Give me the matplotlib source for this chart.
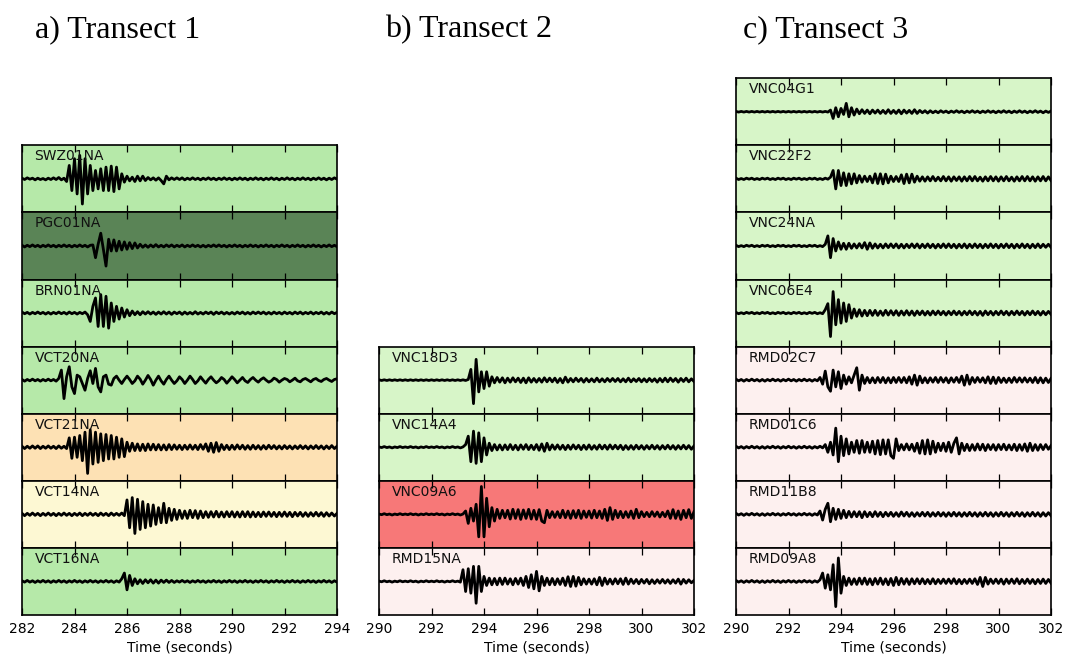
import numpy as np
import matplotlib
matplotlib.use("Agg")
import matplotlib.pyplot as plt

# ---------------- data (amplitudes in % of panel half-height, 0.1 s sampling) ----------------
dt = 0.1
transect_titles = ["a) Transect 1", "b) Transect 2", "c) Transect 3"]
transect_starts = [282, 290, 290]
window = 12
tick_step = 2

t1_stations = ["SWZ01NA", "PGC01NA", "BRN01NA", "VCT20NA", "VCT21NA", "VCT14NA", "VCT16NA"]
t1_colors = ["#b6e9a9", "#5a8456", "#b6e9a9", "#b6e9a9", "#fde1b4", "#fdf8d3", "#b6e9a9"]

t2_stations = ["VNC18D3", "VNC14A4", "VNC09A6", "RMD15NA"]
t2_colors = ["#d7f5c8", "#d7f5c8", "#f77878", "#fdf0ef"]

t3_stations = ["VNC04G1", "VNC22F2", "VNC24NA", "VNC06E4", "RMD02C7", "RMD01C6", "RMD11B8", "RMD09A8"]
t3_colors = ["#d7f5c8", "#d7f5c8", "#d7f5c8", "#d7f5c8", "#fdf0ef", "#fdf0ef", "#fdf0ef", "#fdf0ef"]

swz01na = [2,-2,3,-1,2,-3,2,-2,1,-3,
           2,-2,3,-2,4,-3,2,-8,40,-35,
           60,-45,70,-75,60,-45,40,-35,25,-30,
           30,-35,35,-35,38,-38,35,-30,15,-10,
           8,-6,5,-8,8,-6,8,-5,4,-3,
           3,-4,3,-5,-15,8,-3,3,-2,3,
           -2,3,-3,2,-2,3,-2,2,-3,2,
           -2,3,-2,2,-3,2,-2,3,-2,2,
           -3,2,-2,3,-2,2,-3,2,-2,3,
           -2,2,-3,2,-2,3,-2,2,-3,2,
           -2,3,-2,2,-3,2,-2,3,-2,2,
           -3,2,-2,3,-2,2,-3,2,-2,3,-1]
pgc01na = [2,-3,2,-2,3,-2,2,-3,2,-2,
           3,-2,2,-3,2,-2,3,-2,2,-3,
           2,-2,3,-2,2,-3,2,3,-35,5,
           38,-10,-60,20,-15,18,-15,14,-12,12,
           -10,10,-8,9,-6,5,-4,3,-4,3,
           -3,4,-3,2,-3,3,-2,3,-3,2,
           -2,3,-3,2,-2,3,-2,2,-3,2,
           -3,2,-2,3,-2,3,-2,2,-3,2,
           -2,3,-2,2,-3,2,-2,3,-2,2,
           -3,2,-2,3,-2,2,-3,2,-2,3,
           -2,2,-3,2,-2,3,-2,2,-3,2,
           -2,3,-2,2,-3,2,-2,3,-2,2,-2]
brn01na = [3,-2,2,-3,2,-2,3,-2,2,-3,
           2,-3,2,-2,3,-2,2,-3,3,-2,
           2,-3,2,-2,3,-5,-25,20,45,-40,
           55,-40,50,-45,30,-25,20,-18,15,-12,
           10,-8,6,-5,4,-5,4,-3,4,-3,
           3,-4,3,-3,4,-3,3,-4,3,-2,
           3,-4,3,-3,2,-3,4,-3,2,-3,
           3,-2,3,-4,3,-2,3,-3,2,-3,
           2,-3,3,-2,3,-3,2,-3,3,-2,
           3,-2,3,-3,2,-3,3,-2,2,-3,
           3,-2,2,-3,3,-2,3,-3,2,-2,
           3,-3,2,-2,3,-3,2,-3,3,-2,2]
vct20na = [2,-3,2,-2,3,-2,2,-3,2,-2,
           3,-2,2,-3,5,30,-55,10,40,-20,
           -40,15,10,-10,-30,5,28,-10,35,-20,
           -35,10,15,-12,-15,5,12,0,-10,2,
           12,2,-10,-2,12,3,-12,0,14,2,
           -15,0,12,-2,-12,2,12,0,-10,-2,
           10,2,-10,0,12,2,-10,-2,10,0,
           -9,2,10,0,-8,-2,8,2,-9,0,
           10,2,-8,0,8,-2,-7,2,8,0,
           -6,2,7,0,-6,-2,6,2,-6,0,
           5,2,-5,0,6,-2,-5,2,5,0,
           -5,2,5,-1,-4,2,5,0,-4,2,4]
vct21na = [3,-4,3,-3,4,-3,4,-4,3,-3,
           4,-3,3,-4,4,-3,3,-4,28,-33,
           30,-30,35,-40,45,-78,52,-50,45,-45,
           40,-40,38,-35,35,-35,30,-30,25,-28,
           15,-12,12,-10,10,-10,9,-10,10,-8,
           9,-8,8,-8,7,-8,8,-7,7,-6,
           6,-7,6,-6,7,-6,6,-7,8,-6,
           10,-12,12,-15,14,-12,8,-7,6,-7,
           6,-6,7,-5,6,-6,5,-6,6,-5,
           5,-6,5,-5,6,-4,5,-5,4,-5,
           5,-4,4,-5,4,-4,5,-4,4,-5,
           4,-4,5,-4,4,-5,4,-4,5,-4,3]
vct14na = [3,-4,3,-3,4,-3,3,-4,3,-3,
           4,-3,3,-4,3,-3,4,-3,3,-4,
           3,-3,4,-4,3,-3,4,-3,3,-4,
           4,-3,3,-4,4,-3,3,-3,4,-4,
           43,-40,50,-57,45,-45,38,-40,30,-35,
           28,-30,20,-25,33,-25,18,-18,15,-15,
           12,-12,10,-12,12,-10,11,-12,10,-10,
           8,-9,8,-8,9,-8,7,-8,8,-7,
           8,-8,7,-8,8,-7,8,-8,7,-7,
           6,-7,7,-6,7,-6,6,-7,6,-6,
           7,-6,6,-7,6,-5,6,-6,5,-6,
           5,-5,6,-5,5,-6,5,-5,4,-5,3]
vct16na = [2,-2,3,-2,2,-3,2,-2,3,-2,
           2,-3,2,-2,3,-2,2,-3,2,-2,
           3,-2,2,-3,2,-2,3,-2,2,-3,
           2,-2,3,-2,2,-3,2,-2,8,25,
           -25,18,-12,8,-7,5,-6,5,-4,5,
           -5,4,-5,4,-3,4,-3,3,-3,2,
           -2,3,-2,2,-3,2,-2,3,-2,2,
           -3,2,-2,3,-2,2,-3,2,-2,3,
           -2,2,-3,2,-2,3,-2,2,-3,2,
           -2,3,-2,2,-3,2,-2,3,-2,2,
           -3,2,-2,3,-2,2,-3,2,-2,3,
           -2,2,-3,2,-2,3,-2,2,-3,2,-2]

vnc18d3 = [1,-1,1,-1,1,-1,1,-1,1,-1,
           1,-1,1,-1,1,-1,1,-1,1,-1,
           1,-1,1,-1,1,-1,1,-1,1,-1,
           1,-1,1,-1,2,32,-70,62,-35,25,
           -25,25,-18,10,-8,8,-6,7,-8,6,
           -6,7,-5,6,-7,6,-8,7,-6,5,
           -6,5,-6,7,-5,6,-5,6,-7,5,
           -8,9,-6,5,-5,6,-4,5,-6,5,
           -5,4,-5,6,-5,4,-5,5,-4,5,
           -4,5,-5,4,-5,6,-5,4,-4,5,
           -5,4,-5,5,-4,4,-6,5,-5,6,
           -5,6,-4,5,-6,5,-4,6,-5,4,-4]
vnc14a4 = [1,-1,2,-1,1,-2,1,-1,2,-1,
           1,-1,2,-1,1,-2,1,-1,2,-1,
           1,-1,2,-1,1,-2,1,-1,2,-1,
           1,-2,1,8,33,-43,48,-48,43,-43,
           28,-23,12,-10,8,-8,7,-8,7,-7,
           8,-7,6,-8,7,-6,8,-7,6,-7,
           8,-9,10,-12,12,-8,7,-6,7,-6,
           6,-7,6,-6,7,-5,6,-7,6,-6,
           7,-6,5,-6,7,-5,6,-6,7,-5,
           6,-5,6,-7,5,-6,5,-6,6,-5,
           5,-6,5,-5,6,-5,5,-6,5,-5,
           6,-5,5,-6,5,-5,6,-5,5,-6,4]
vnc09a6 = [1,-1,2,-1,1,-2,1,-1,2,-1,
           1,-1,2,-1,1,-2,1,-1,2,-1,
           1,-1,2,-1,1,-2,1,-1,2,-1,
           1,-2,1,10,-27,18,-20,30,-67,83,
           -67,48,-37,20,-20,15,-12,12,-10,12,
           -14,15,-12,14,-15,13,-12,15,-14,12,
           -15,14,-20,-25,12,-10,8,-9,8,-10,
           12,-10,10,-12,11,-10,12,-12,10,-9,
           10,-11,12,-10,10,-12,15,-18,20,-15,
           12,-10,9,-10,8,-9,10,-12,15,-10,
           8,-7,6,-7,8,-6,7,-8,6,-7,
           10,-12,14,-12,10,-15,12,-10,14,-12,8]
rmd15na = [1,-1,2,-1,1,-2,1,-1,2,-1,
           1,-1,2,-1,1,-2,1,-1,2,-1,
           1,-1,2,-1,1,-2,1,-1,2,-1,
           1,-2,35,-30,38,-35,45,-65,45,-30,
           15,-12,10,-10,9,-10,10,-9,10,-8,
           8,-10,9,-8,10,-12,15,-18,20,-22,
           30,-28,15,-12,10,-10,9,-10,8,-9,
           10,-12,14,-15,15,-14,12,-10,8,-8,
           7,-8,8,-10,12,-12,10,-8,7,-8,
           8,-7,8,-9,10,-8,7,-6,6,-7,
           6,-5,6,-7,5,-6,5,-5,6,-5,
           5,-6,5,-5,7,-8,6,-5,5,-4,3]

vnc04g1 = [1,-1,1,-1,1,-1,1,-1,1,-1,
           1,-1,1,-1,1,-1,1,-1,1,-1,
           1,-1,1,-1,1,-1,1,-1,1,-1,
           1,-1,1,-1,1,-1,5,-20,12,-15,
           10,-8,25,-15,12,-10,8,-6,6,-5,
           5,-6,5,-4,5,-5,4,-5,6,-5,
           4,-5,5,-6,5,-4,4,-5,6,-5,
           4,-3,3,-4,3,-3,2,-3,3,-2,
           2,-3,2,-2,3,-2,2,-3,2,-2,
           3,-2,2,-3,2,-2,3,-2,2,-3,
           2,-2,3,-2,2,-3,2,-2,3,-2,
           2,-3,2,-2,3,-2,2,-3,2,-2,2]
vnc22f2 = [2,-2,1,-2,2,-1,2,-2,1,-2,
           2,-1,2,-2,1,-2,2,-1,2,-2,
           1,-2,2,-1,2,-2,1,-2,2,-1,
           2,-2,1,-2,2,-1,5,25,-30,25,
           -20,18,-20,15,-15,15,-12,10,-10,8,
           -8,8,-12,15,-14,15,-15,14,-12,8,
           -8,7,-8,12,-14,14,-12,14,-10,8,
           -7,6,-7,6,-6,7,-6,5,-6,7,
           -6,6,-7,6,-5,6,-7,6,-6,7,
           -6,7,-6,5,-7,6,-6,7,-6,6,
           -7,6,-6,7,-6,5,-7,6,-6,7,
           -6,7,-6,6,-7,6,-6,7,-6,6,-5]
vnc24na = [2,-2,1,-2,2,-1,2,-2,1,-2,
           2,-1,2,-2,1,-2,2,-1,2,-2,
           1,-2,2,-1,2,-2,1,-2,2,-1,
           2,-2,1,-2,5,30,-35,22,-15,12,
           -10,8,-10,8,-7,6,-6,7,-6,10,
           -10,9,-7,6,-6,5,-6,6,-5,6,
           -5,6,-6,5,-6,5,-5,6,-5,6,
           -6,5,-5,6,-5,5,-6,5,-5,6,
           -5,6,-5,5,-6,5,-5,6,-6,5,
           -5,6,-5,5,-6,5,-5,6,-5,5,
           -6,5,-5,6,-5,5,-6,5,-5,6,
           -5,5,-6,5,-5,6,-5,5,-4,5,-4]
vnc06e4 = [2,-2,1,-2,2,-1,2,-2,1,-2,
           2,-1,2,-2,1,-2,2,-1,2,-2,
           1,-2,2,-1,2,-2,1,-2,2,-1,
           2,-2,1,-2,10,28,-70,64,-35,40,
           -30,30,-25,25,-15,12,-10,10,-9,8,
           -8,8,-7,8,-7,6,-7,8,-6,7,
           -6,7,-7,6,-6,7,-6,6,-7,6,
           -5,6,-6,5,-6,6,-5,6,-5,5,
           -6,5,-5,6,-5,5,-6,5,-5,6,
           -5,5,-6,5,-7,6,-5,5,-6,5,
           -5,6,-5,5,-6,5,-5,6,-5,5,
           -6,5,-5,6,-5,5,-6,5,-5,5,-4]
rmd02c7 = [3,-2,2,-3,2,-2,3,-2,2,-3,
           2,-3,2,-2,3,-2,2,-3,2,-2,
           3,-2,2,-3,2,-2,3,-2,2,-3,
           2,-2,8,-12,27,-20,-33,30,-20,25,
           -25,15,-12,10,-8,15,37,-30,15,-10,
           8,-8,7,-8,8,-7,8,-8,7,-8,
           8,-7,8,-7,8,-8,10,-12,15,-15,
           12,-8,7,-8,7,-6,8,-7,8,-6,
           7,-8,7,-6,8,-7,12,-15,15,-12,
           8,-7,8,-6,7,-8,10,-10,9,-10,
           8,-7,6,-7,6,-7,8,-6,7,-6,
           7,-6,6,-7,8,-8,7,-8,6,-7,5]
rmd01c6 = [3,-2,2,-3,2,-2,3,-2,2,-3,
           2,-3,2,-2,3,-2,2,-3,2,-2,
           3,-2,2,-3,2,-2,3,-2,2,-3,
           2,-2,3,-2,8,-15,15,-23,57,-43,
           33,-25,25,-20,15,-15,20,-18,20,-15,
           15,-15,18,-20,20,-22,22,-20,22,-25,
           -33,25,-10,8,-8,10,-8,9,-12,12,
           -18,20,-20,22,-20,18,-15,12,-10,12,
           -12,15,-15,12,28,-20,12,-10,9,-10,
           8,-9,10,-8,9,-10,8,-7,8,-9,
           8,-7,9,-8,7,-8,9,-10,8,-9,
           10,-12,12,-10,8,-9,8,-7,8,-6,5]
rmd11b8 = [3,-2,2,-3,2,-2,3,-2,2,-3,
           2,-3,2,-2,3,-2,2,-3,2,-2,
           3,-2,2,-3,2,-2,3,-2,2,-3,
           2,-2,10,-17,15,33,-22,18,-15,15,
           -12,12,-10,9,-8,8,-7,8,-10,8,
           -7,6,-7,8,-6,6,-7,6,-5,6,
           -6,5,-6,7,-5,6,-6,5,-6,5,
           -5,6,-5,6,-6,5,-5,6,-5,5,
           -6,5,-5,6,-5,5,-6,5,-5,6,
           -5,5,-6,5,-5,6,-5,5,-6,5,
           -5,6,-5,5,-6,5,-5,6,-5,5,
           -6,5,-5,6,-5,5,-6,5,-5,5,-4]
rmd09a8 = [3,-2,2,-3,2,-2,3,-2,2,-3,
           2,-3,2,-2,3,-2,2,-3,2,-2,
           3,-2,2,-3,2,-2,3,-2,2,-3,
           2,-2,5,25,-20,20,-25,50,-75,70,
           -35,15,-12,10,-9,8,-9,10,-8,10,
           -9,8,-10,9,-8,10,-9,8,-10,9,
           -12,12,-10,9,-8,8,-9,8,-7,8,
           -7,8,-7,6,-7,8,-7,6,-6,7,
           -6,7,-6,8,-7,6,-7,6,-6,7,
           -6,8,-9,12,-15,12,-8,7,-6,7,
           -6,7,-8,7,-6,7,-6,8,-7,6,
           -6,7,-6,6,-7,6,-6,7,-6,6,-5]

t1_traces = [swz01na, pgc01na, brn01na, vct20na, vct21na, vct14na, vct16na]
t2_traces = [vnc18d3, vnc14a4, vnc09a6, rmd15na]
t3_traces = [vnc04g1, vnc22f2, vnc24na, vnc06e4, rmd02c7, rmd01c6, rmd11b8, rmd09a8]

# ---------------- layout ----------------
W, H = 1065, 656
fig = plt.figure(figsize=(W / 100, H / 100), dpi=100)

col_left_px = [22, 379, 736]
col_width_px = 315
bottom_px = 615
panel_h_px = 67.1
title_x_px = [35, 385, 743]

columns = [
    (t1_stations, t1_colors, t1_traces),
    (t2_stations, t2_colors, t2_traces),
    (t3_stations, t3_colors, t3_traces),
]

for c, (names, colors, traces) in enumerate(columns):
    start = transect_starts[c]
    n = len(names)
    for k in range(n):
        top_px = bottom_px - (n - k) * panel_h_px
        ax = fig.add_axes([col_left_px[c] / W, 1 - (top_px + panel_h_px) / H,
                           col_width_px / W, panel_h_px / H])
        ax.set_facecolor(colors[k])
        vals = np.array(traces[k], dtype=float) / 100.0
        t = start + dt * np.arange(len(vals))
        ax.plot(t, vals, color="black", lw=2.0, solid_joinstyle="round")
        ax.set_xlim(start, start + window)
        ax.set_ylim(-1, 1)
        ax.set_yticks([])
        ax.set_xticks(np.arange(start, start + window + 1, tick_step))
        ax.tick_params(axis="x", direction="in", top=True, bottom=True,
                       length=5, width=0.9, labelsize=10, pad=5)
        for s in ax.spines.values():
            s.set_linewidth(1.2)
            s.set_color("black")
        ax.text(0.04, 0.94, names[k], transform=ax.transAxes, ha="left", va="top",
                fontsize=10, color="#111111")
        if k < n - 1:
            ax.tick_params(axis="x", labelbottom=False)
        else:
            ax.set_xlabel("Time (seconds)", fontsize=10, labelpad=3)
    fig.text(title_x_px[c] / W, 1 - 37 / H, transect_titles[c], family="Liberation Serif",
             fontsize=23, ha="left", va="baseline")

fig.savefig("out.png", dpi=100)
